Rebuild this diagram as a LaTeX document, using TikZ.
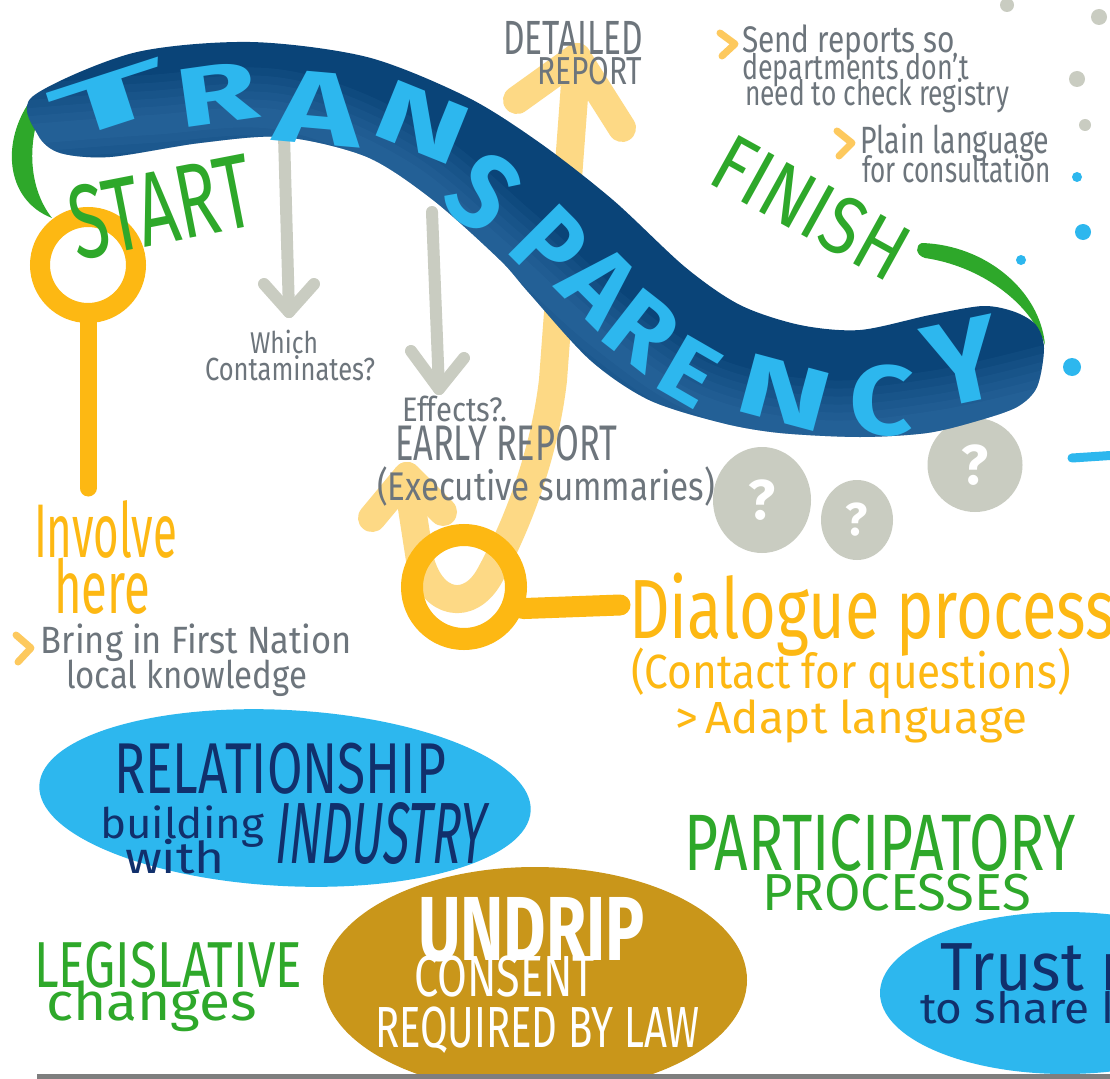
\documentclass[tikz,border=0pt]{standalone}
\usepackage{fontspec}
\usepackage{graphicx}
\setmainfont{Fira Sans}
\newfontfamily\slfont[FakeSlant=0.2]{Fira Sans}
\usetikzlibrary{shapes.geometric}
\definecolor{ribdark}{HTML}{0A4478}
\definecolor{riblight}{HTML}{4A8BC4}
\definecolor{ltblue}{HTML}{2DB7EE}
\definecolor{hgreen}{HTML}{2EA82A}
\definecolor{orng}{HTML}{FDB813}
\definecolor{pale}{HTML}{FDD985}
\definecolor{chev}{HTML}{FDC95E}
\definecolor{qgray}{HTML}{C9CCC1}
\definecolor{txgray}{HTML}{6D757C}
\definecolor{navy}{HTML}{11306C}
\definecolor{mustard}{HTML}{C9961A}
\definecolor{lineg}{HTML}{7E7E7E}
\newcommand{\fw}[3]{\resizebox{#1pt}{\height}{\fontsize{#2pt}{#2pt}\selectfont #3}}
\newcommand{\rl}[3]{\resizebox{#1pt}{#2pt}{#3}}
\begin{document}
\begin{tikzpicture}[x=1pt,y=-1pt,
 t/.style={inner sep=0pt, outer sep=0pt, anchor=base west},
 gtx/.style={t, text=txgray},
 otx/.style={t, text=orng},
 grtx/.style={t, text=hgreen},
 ntx/.style={t, text=navy},
 wtx/.style={t, text=white},
 rib/.style={inner sep=0pt, text=ltblue, font=\fontsize{80}{80}\selectfont\bfseries},
 garrow/.style={draw=qgray, line width=12pt, line cap=round, line join=round},
 palearrow/.style={draw=pale, line width=28pt, line cap=round, line join=round},
 chevron/.style={draw=chev, line width=7pt, line cap=round, line join=round},
 ringst/.style={draw=orng, circle, inner sep=0pt},
 qcirc/.style={fill=qgray, ellipse, inner sep=0pt, text=white, font=\fontsize{56}{56}\selectfont\bfseries},
]
\path[use as bounding box] (0,0) rectangle (1110,1078);
\clip (0,0) rectangle (1110,1078);
\fill[white] (0,0) rectangle (1110,1078);

% pale U arrow (behind ribbon)
\coordinate (utop) at (577,57);
\coordinate (uleft) at (407,476);
\draw[palearrow] (utop) -- (553,380) .. controls (545,450) and (520,520) .. (490,575) .. controls (470,612) and (432,606) .. (420,560) -- (uleft);
\draw[palearrow] (517,100) -- (utop) -- (622,128);
\draw[palearrow] (372,518) -- (uleft) -- (443,512);

% gray arrows
\coordinate (a1s) at (284,135);
\coordinate (a1e) at (289,312);
\draw[garrow] (a1s) -- (a1e);
\draw[garrow] (264,284) -- (a1e) -- (314,284);
\coordinate (a2s) at (432,212);
\coordinate (a2e) at (439,389);
\draw[garrow] (a2s) -- (a2e);
\draw[garrow] (411,351) -- (a2e) -- (464,358);

% question bubbles
\node[qcirc, minimum width=98pt, minimum height=106pt] (q1) at (762,500) {?};
\node[qcirc, minimum width=72pt, minimum height=80pt, font=\fontsize{46}{46}\selectfont\bfseries] (q2) at (857,520) {?};
\node[qcirc, minimum width=95pt, minimum height=94pt] (q3) at (975,465) {?};

% green hooks
\fill[hgreen] (33,97) .. controls (0,140) and (5,200) .. (52,218) .. controls (30,190) and (28,150) .. (38,118) -- cycle;
\fill[hgreen] (922,243) .. controls (985,245) and (1040,290) .. (1045,345) .. controls (1030,302) and (980,266) .. (925,258) .. controls (915,255) and (915,245) .. (922,243) -- cycle;

% ribbon
\fill[ribdark] plot[smooth cycle, tension=0.5] coordinates {(32,97) (133,53) (250,42) (367,57) (467,97) (540,143) (613,200) (685,267) (740,305) (800,325) (860,330) (930,315) (983,306) (1015,312) (1036,325) (1044,348) (1037,387) (1017,407) (977,421) (927,433) (860,437) (780,433) (722,423) (649,400) (590,360) (529,293) (500,260) (433,200) (367,157) (283,137) (200,143) (110,157) (60,153) (38,135)};
\begin{scope}
\clip plot[smooth cycle, tension=0.5] coordinates {(32,97) (133,53) (250,42) (367,57) (467,97) (540,143) (613,200) (685,267) (740,305) (800,325) (860,330) (930,315) (983,306) (1015,312) (1036,325) (1044,348) (1037,387) (1017,407) (977,421) (927,433) (860,437) (780,433) (722,423) (649,400) (590,360) (529,293) (500,260) (433,200) (367,157) (283,137) (200,143) (110,157) (60,153) (38,135)};
\foreach \w in {100,84,68,52,36,20}{
\draw[riblight, line width=\w pt, opacity=0.09, line cap=round] plot[smooth, tension=0.6] coordinates {(20,135) (150,125) (280,120) (400,168) (500,250) (600,340) (700,405) (820,430) (940,420) (1050,395)};
}
\end{scope}
\node[rib, rotate=18] (L1) at (110,100) {\rl{120}{52}{T}};
\node[rib, rotate=8] (L2) at (217,94) {\rl{82}{58}{R}};
\node[rib, rotate=-5] (L3) at (318,108) {\rl{86}{72}{A}};
\node[rib, rotate=-22] (L4) at (422,122) {\rl{94}{60}{N}};
\node[rib, rotate=-40] (L5) at (484,192) {\rl{56}{76}{S}};
\node[rib, rotate=-45] (L6) at (550,245) {\rl{56}{72}{P}};
\node[rib, rotate=-45] (L7) at (600,285) {\rl{62}{70}{A}};
\node[rib, rotate=-38] (L8) at (642,330) {\rl{62}{68}{R}};
\node[rib, rotate=-30] (L9) at (690,372) {\rl{52}{62}{E}};
\node[rib, rotate=-15] (L10) at (785,393) {\rl{94}{60}{N}};
\node[rib, rotate=-2] (L11) at (882,400) {\rl{64}{70}{C}};
\node[rib, rotate=12] (L12) at (963,362) {\rl{74}{82}{Y}};

% orange rings
\node[ringst, line width=20pt, minimum size=96pt] (r1) at (88,265) {};
\coordinate (stemend) at (88,488);
\draw[orng, line width=17pt, line cap=round] (r1.south) -- (stemend);
\node[ringst, line width=22pt, minimum size=104pt] (r2) at (464,587) {};
\coordinate (handleend) at (620,605);
\draw[orng, line width=21pt, line cap=round] (r2.-20) -- (handleend);

% START / FINISH
\node[inner sep=0pt, text=hgreen, rotate=11] (start) at (161,207) {\fw{185}{105}{START}};
\node[inner sep=0pt, text=hgreen, rotate=-29] (fin) at (811,208) {\fw{210}{82}{FINISH}};

% gray texts
\node[gtx] (det) at (503,55) {\fw{140}{48}{DETAILED}};
\node[gtx] (rep) at (537,85) {\fw{105}{39}{REPORT}};
\node[gtx] (s1) at (742,53) {\fw{213}{37}{Send reports so}};
\node[gtx] (s2) at (742,80) {\fw{227}{35}{departments don't}};
\node[gtx] (s3) at (745,106) {\fw{264}{35}{need to check registry}};
\node[gtx] (p1) at (860,154) {\fw{189}{38}{Plain language}};
\node[gtx] (p2) at (862,183) {\fw{189}{36}{for consultation}};
\node[gtx] (w1) at (250,353) {\fw{68}{30}{Which}};
\node[gtx] (w2) at (205,380) {\fw{170}{32}{Contaminates?}};
\node[gtx] (e1) at (402,421) {\fw{105}{34}{Effects?.}};
\node[gtx] (e2) at (395,460) {\fw{222}{50}{EARLY REPORT}};
\node[gtx] (e3) at (377,500) {\fw{338}{40}{(Executive summaries)}};
\node[gtx] (b1) at (41,653) {\fw{311}{38}{Bring in First Nation}};
\node[gtx] (b2) at (66,688) {\fw{241}{38}{local knowledge}};

% chevrons
\draw[chevron] (720,33) -- (735,44) -- (722,56);
\draw[chevron] (837,131) -- (852,143) -- (839,156);
\draw[chevron] (16,635) -- (31,648) -- (18,662);

% orange texts
\node[otx] (inv) at (34,557) {\fw{143}{76}{Involve}};
\node[otx] (here) at (54,613) {\fw{96}{74}{here}};
\node[otx] (dp) at (629,638) {\fw{486}{84}{Dialogue process}};
\node[otx] (cq) at (631,688) {\fw{440}{48}{(Contact for questions)}};
\node[otx] (al) at (675,733) {\fw{352}{45}{>\,Adapt language}};

% dots
\fill[qgray] (1007,5) circle (7pt);
\fill[qgray] (1099,17) circle (8pt);
\fill[qgray] (1077,79) circle (8pt);
\fill[qgray] (1085,125) circle (6pt);
\fill[ltblue] (1077,177) circle (5pt);
\fill[ltblue] (1083,232) circle (8pt);
\fill[ltblue] (1021,260) circle (5pt);
\fill[ltblue] (1072,367) circle (9pt);
\coordinate (bs1) at (1072,458);
\coordinate (bs2) at (1118,455);
\draw[ltblue, line width=9pt, line cap=round] (bs1) -- (bs2);

% ellipses
\fill[ltblue, rotate around={-3:(285,798)}] (285,798) ellipse [x radius=246pt, y radius=88pt];
\node[ntx] (rel) at (114,793) {\fw{332}{72}{RELATIONSHIP}};
\node[ntx] (bld) at (100,838) {\fw{164}{42}{building}};
\node[ntx] (wth) at (125,873) {\fw{100}{44}{with}};
\node[ntx] (ind) at (273,863) {\fw{211}{87}{\slfont INDUSTRY}};

\fill[mustard] (535,980) ellipse [x radius=212pt, y radius=113pt];
\node[wtx] (und) at (418,960) {\fw{227}{91}{\bfseries UNDRIP}};
\node[wtx] (con) at (414,996) {\fw{181}{58}{CONSENT}};
\node[wtx] (req) at (375,1047) {\fw{325}{58}{REQUIRED BY LAW}};

\fill[ltblue] (1065,993) ellipse [x radius=185pt, y radius=81pt];
\node[ntx] (tr1) at (940,990) {\fw{185}{68}{Trust r}};
\node[ntx] (tr2) at (920,1023) {\fw{205}{43}{to share k}};

% green texts
\node[grtx] (leg) at (34,987) {\fw{268}{65}{LEGISLATIVE}};
\node[grtx] (chg) at (46,1020) {\fw{211}{53}{changes}};
\node[grtx] (par) at (684,870) {\fw{392}{80}{PARTICIPATORY}};
\node[grtx] (pro) at (762,910) {\fw{269}{52}{PROCESSES}};

% bottom line
\coordinate (bl1) at (37,1076);
\coordinate (bl2) at (1115,1076);
\draw[lineg, line width=5pt] (bl1) -- (bl2);
\end{tikzpicture}
\end{document}
